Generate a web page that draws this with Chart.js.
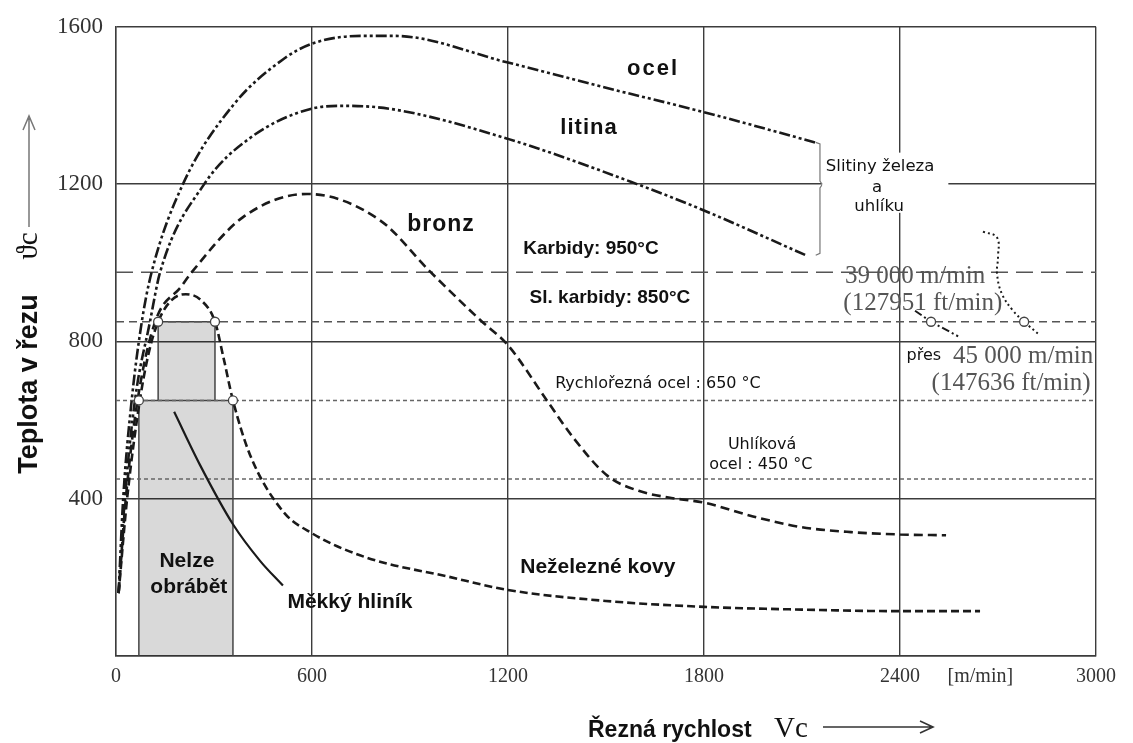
<!DOCTYPE html>
<html><head><meta charset="utf-8">
<script src="https://cdn.jsdelivr.net/npm/chart.js@4/dist/chart.umd.min.js"></script>
<style>html,body{margin:0;padding:0;background:#fff}canvas{display:block}</style>
</head><body>
<canvas id="c" width="1133" height="743" style="width:1133px;height:743px"></canvas>
<script>
// ---- axis ticks ----
const xTickValues = [0, 600, 1200, 1800, 2400, 3000];
const yTickValues = [0, 400, 800, 1200, 1600];

// ---- curves (cutting speed m/min, temperature °C) ----
const ocelX   = [8, 22, 48, 79, 109, 205, 358, 511, 600, 750, 850, 1200, 1500, 1800, 2140];
const ocelY   = [160, 400, 650, 850, 976, 1200, 1400, 1517, 1557, 1577, 1577, 1509, 1445, 1383, 1306];

const litinaX = [8, 27, 58, 104, 135, 270, 410, 600, 700, 850, 1200, 1595, 1800, 2112];
const litinaY = [160, 400, 650, 850, 976, 1200, 1317, 1392, 1399, 1390, 1315, 1200, 1133, 1019];

const bronzX  = [8, 30, 66, 120, 200, 232, 389, 585, 808, 961, 1114, 1200, 1319, 1400, 1505, 1600, 1700, 1800, 1950, 2096, 2250, 2400, 2541];
const bronzY  = [160, 400, 650, 850, 940, 976, 1116, 1175, 1108, 978, 855, 790, 650, 555, 458, 420, 402, 390, 355, 328, 315, 309, 307];

const nezelX  = [8, 34, 73, 100, 129, 170, 214, 260, 303, 330, 358, 410, 511, 600, 768, 1016, 1200, 1500, 1800, 2100, 2400, 2645];
const nezelY  = [160, 400, 650, 770, 850, 905, 920, 905, 850, 755, 650, 512, 368, 312, 250, 202, 168, 140, 125, 118, 114, 114];

const hlinikX = [178, 257, 358, 441, 511];
const hlinikY = [621, 486, 335, 242, 179];

// limits of tool materials (°C)
const limitKarbidy = 976, limitSlKarbidy = 850, limitRychlorezna = 650, limitUhlikova = 450;

// "cannot be machined" zone
const zoneLowX = [70, 70, 358, 358];
const zoneLowY = [0, 650, 650, 0];
const zoneUpX  = [129, 129, 303, 303];
const zoneUpY  = [650, 850, 850, 650];

// very high speed branches
const seg39X = [2446, 2495, 2578];
const seg39Y = [878, 850, 813];
const dot45X = [2654, 2697, 2700, 2697, 2712, 2746, 2780, 2829];
const dot45Y = [1079, 1064, 1014, 972, 921, 878, 850, 815];

// bracket "Slitiny železa a uhlíku"
const bracketX = [2142, 2155, 2155, 2162, 2155, 2155, 2142];
const bracketY = [1306, 1302, 1208, 1199, 1190, 1024, 1019];

// intersection markers
const markX = [70, 358, 129, 303, 2495, 2780];
const markY = [650, 650, 850, 850, 850, 850];

const pts = (xs, ys) => xs.map((x, i) => ({x, y: ys[i]}));
const hline = v => [{x: 0, y: v}, {x: 3000, y: v}];

const BOLD = '"Liberation Sans", Arial, sans-serif';
const SMALL = '"DejaVu Sans", sans-serif';
const SERIF = '"Liberation Serif", "Times New Roman", serif';

const labels = [
  {t: 'ocel', x: 1644, y: 1492, f: 'bold 22px ' + BOLD, ls: '2px'},
  {t: 'litina', x: 1448, y: 1343, f: 'bold 22px ' + BOLD, ls: '1px'},
  {t: 'bronz', x: 995, y: 1097, f: 'bold 23px ' + BOLD, ls: '1px'},
  {t: 'Karbidy: 950°C', x: 1454, y: 1036, f: 'bold 19px ' + BOLD},
  {t: 'Sl. karbidy: 850°C', x: 1512, y: 911, f: 'bold 19px ' + BOLD},
  {t: 'Rychlořezná ocel : 650 °C', x: 1659, y: 692, f: '16px ' + SMALL},
  {t: 'Uhlíková', x: 1978, y: 536, f: '16px ' + SMALL},
  {t: 'ocel : 450 °C', x: 1974, y: 486, f: '16px ' + SMALL},
  {t: 'Neželezné kovy', x: 1475, y: 226, f: 'bold 21px ' + BOLD},
  {t: 'Měkký hliník', x: 716, y: 136, f: 'bold 21px ' + BOLD},
  {t: 'Nelze', x: 217, y: 242, f: 'bold 21px ' + BOLD},
  {t: 'obrábět', x: 223, y: 174, f: 'bold 21px ' + BOLD},
  {t: 'Slitiny železa', x: 2339, y: 1245, f: '16.5px ' + SMALL},
  {t: 'a', x: 2330, y: 1192, f: '16.5px ' + SMALL},
  {t: 'uhlíku', x: 2336, y: 1142, f: '16.5px ' + SMALL},
  {t: '39 000 m/min', x: 2446, y: 966, f: '25px ' + SERIF, c: '#555'},
  {t: '(127951 ft/min)', x: 2470, y: 896, f: '25px ' + SERIF, c: '#555'},
  {t: 'přes', x: 2473, y: 762, f: '16px ' + SMALL},
  {t: '45 000 m/min', x: 2777, y: 762, f: '25px ' + SERIF, c: '#555'},
  {t: '(147636 ft/min)', x: 2740, y: 694, f: '25px ' + SERIF, c: '#555'}
];

const INK = '#1a1a1a';
const curve = (data, dash, extra) => Object.assign({
  data, showLine: true, borderColor: INK, borderWidth: 2.6, borderDash: dash,
  pointRadius: 0, cubicInterpolationMode: 'monotone', fill: false, order: 2
}, extra || {});
const ref = (v, dash, col) => ({
  data: hline(v), showLine: true, borderColor: col, borderWidth: 1.5, borderDash: dash,
  pointRadius: 0, tension: 0, fill: false, order: 5
});

const annot = {
  id: 'annot',
  afterDatasetsDraw(chart) {
    const {ctx, scales: {x, y}} = chart;
    ctx.save();
    // white box behind the bracket note
    const bx0 = x.getPixelForValue(2162), bx1 = x.getPixelForValue(2548);
    const by0 = y.getPixelForValue(1280), by1 = y.getPixelForValue(1127);
    ctx.fillStyle = '#fff';
    ctx.fillRect(bx0, by0, bx1 - bx0, by1 - by0);
    ctx.textAlign = 'center';
    ctx.textBaseline = 'middle';
    labels.forEach(l => {
      ctx.font = l.f;
      ctx.letterSpacing = l.ls || '0px';
      ctx.fillStyle = l.c || '#111';
      ctx.fillText(l.t, x.getPixelForValue(l.x), y.getPixelForValue(l.y));
    });
    ctx.letterSpacing = '0px';
    ctx.restore();
  },
  afterDraw(chart) {
    const {ctx, chartArea: a} = chart;
    ctx.save();
    // unit label next to last x tick
    ctx.fillStyle = '#333';
    ctx.font = '20px ' + SERIF;
    ctx.textAlign = 'center';
    ctx.textBaseline = 'middle';
    ctx.fillText('[m/min]', a.left + (a.right - a.left) * 0.882, a.bottom + 21);
    // x title
    ctx.textAlign = 'left';
    ctx.textBaseline = 'alphabetic';
    ctx.fillStyle = '#111';
    ctx.font = 'bold 23px ' + BOLD;
    ctx.fillText('Řezná rychlost', 588, 737);
    ctx.font = '29px ' + SERIF;
    ctx.fillText('Vc', 774, 737);
    ctx.strokeStyle = '#333'; ctx.lineWidth = 1.6;
    ctx.beginPath(); ctx.moveTo(823, 727); ctx.lineTo(932, 727);
    ctx.moveTo(920, 721); ctx.lineTo(933, 727); ctx.lineTo(920, 733); ctx.stroke();
    // y title
    ctx.save();
    ctx.translate(37, 384);
    ctx.rotate(-Math.PI / 2);
    ctx.textAlign = 'center';
    ctx.font = 'bold 27px ' + BOLD;
    ctx.fillText('Teplota v řezu', 0, 0);
    ctx.font = '29px ' + SERIF;
    ctx.fillText('ϑc', 138, 0);
    ctx.restore();
    ctx.strokeStyle = '#777'; ctx.lineWidth = 1.5;
    ctx.beginPath(); ctx.moveTo(29, 227); ctx.lineTo(29, 117);
    ctx.moveTo(23, 130); ctx.lineTo(29, 116); ctx.lineTo(35, 130); ctx.stroke();
    ctx.restore();
  }
};

new Chart(document.getElementById('c'), {
  type: 'scatter',
  data: {
    datasets: [
      {data: pts(zoneLowX, zoneLowY), showLine: true, tension: 0, pointRadius: 0,
       borderColor: '#444', borderWidth: 1.5, backgroundColor: 'rgba(0,0,0,0.15)', fill: 'origin', order: 9},
      {data: pts(zoneUpX, zoneUpY), showLine: true, tension: 0, pointRadius: 0,
       borderColor: '#444', borderWidth: 1.5, backgroundColor: 'rgba(0,0,0,0.15)', fill: {value: 650}, order: 9},
      ref(limitKarbidy, [17, 8], '#555'),
      ref(limitSlKarbidy, [8, 5], '#555'),
      ref(limitRychlorezna, [4, 3], '#666'),
      ref(limitUhlikova, [4, 3], '#666'),
      curve(pts(ocelX, ocelY), [11, 3, 3, 3, 3, 3]),
      curve(pts(litinaX, litinaY), [11, 3, 3, 3, 3, 3]),
      curve(pts(bronzX, bronzY), [9, 5]),
      curve(pts(nezelX, nezelY), [8, 4]),
      curve(pts(hlinikX, hlinikY), [], {borderWidth: 2.2}),
      curve(pts(seg39X, seg39Y), [8, 3, 2, 3], {borderWidth: 2, cubicInterpolationMode: 'default', tension: 0}),
      curve(pts(dot45X, dot45Y), [2, 3], {borderWidth: 2, cubicInterpolationMode: 'default', tension: 0.4}),
      {data: pts(bracketX, bracketY), showLine: true, tension: 0, pointRadius: 0,
       borderColor: '#777', borderWidth: 1.2, fill: false, order: 3},
      {data: pts(markX, markY), showLine: false, pointRadius: 4.5, pointBackgroundColor: '#fff',
       pointBorderColor: '#444', pointBorderWidth: 1.3, order: 0}
    ]
  },
  options: {
    responsive: false,
    animation: false,
    events: [],
    layout: {padding: {left: 0, top: 20, right: 37, bottom: 0}},
    plugins: {legend: {display: false}, tooltip: {enabled: false}},
    scales: {
      x: {
        type: 'linear', min: 0, max: 3000,
        afterBuildTicks: s => { s.ticks = xTickValues.map(v => ({value: v})); },
        afterFit: s => { s.height = 87; },
        grid: {color: '#3c3c3c', lineWidth: 1.4, drawTicks: false},
        border: {color: '#3c3c3c', width: 1.4},
        ticks: {padding: 9, color: '#333', font: {family: SERIF, size: 20}, maxRotation: 0,
                callback: v => String(v)}
      },
      y: {
        type: 'linear', min: 0, max: 1600,
        afterBuildTicks: s => { s.ticks = yTickValues.map(v => ({value: v})); },
        afterFit: s => { s.width = 116; },
        grid: {color: '#3c3c3c', lineWidth: 1.4, drawTicks: false},
        border: {color: '#3c3c3c', width: 1.4},
        ticks: {padding: 13, color: '#333', font: {family: SERIF, size: 23},
                callback: v => v === 0 ? '' : String(v)}
      }
    }
  },
  plugins: [annot]
});
</script>
</body></html>
